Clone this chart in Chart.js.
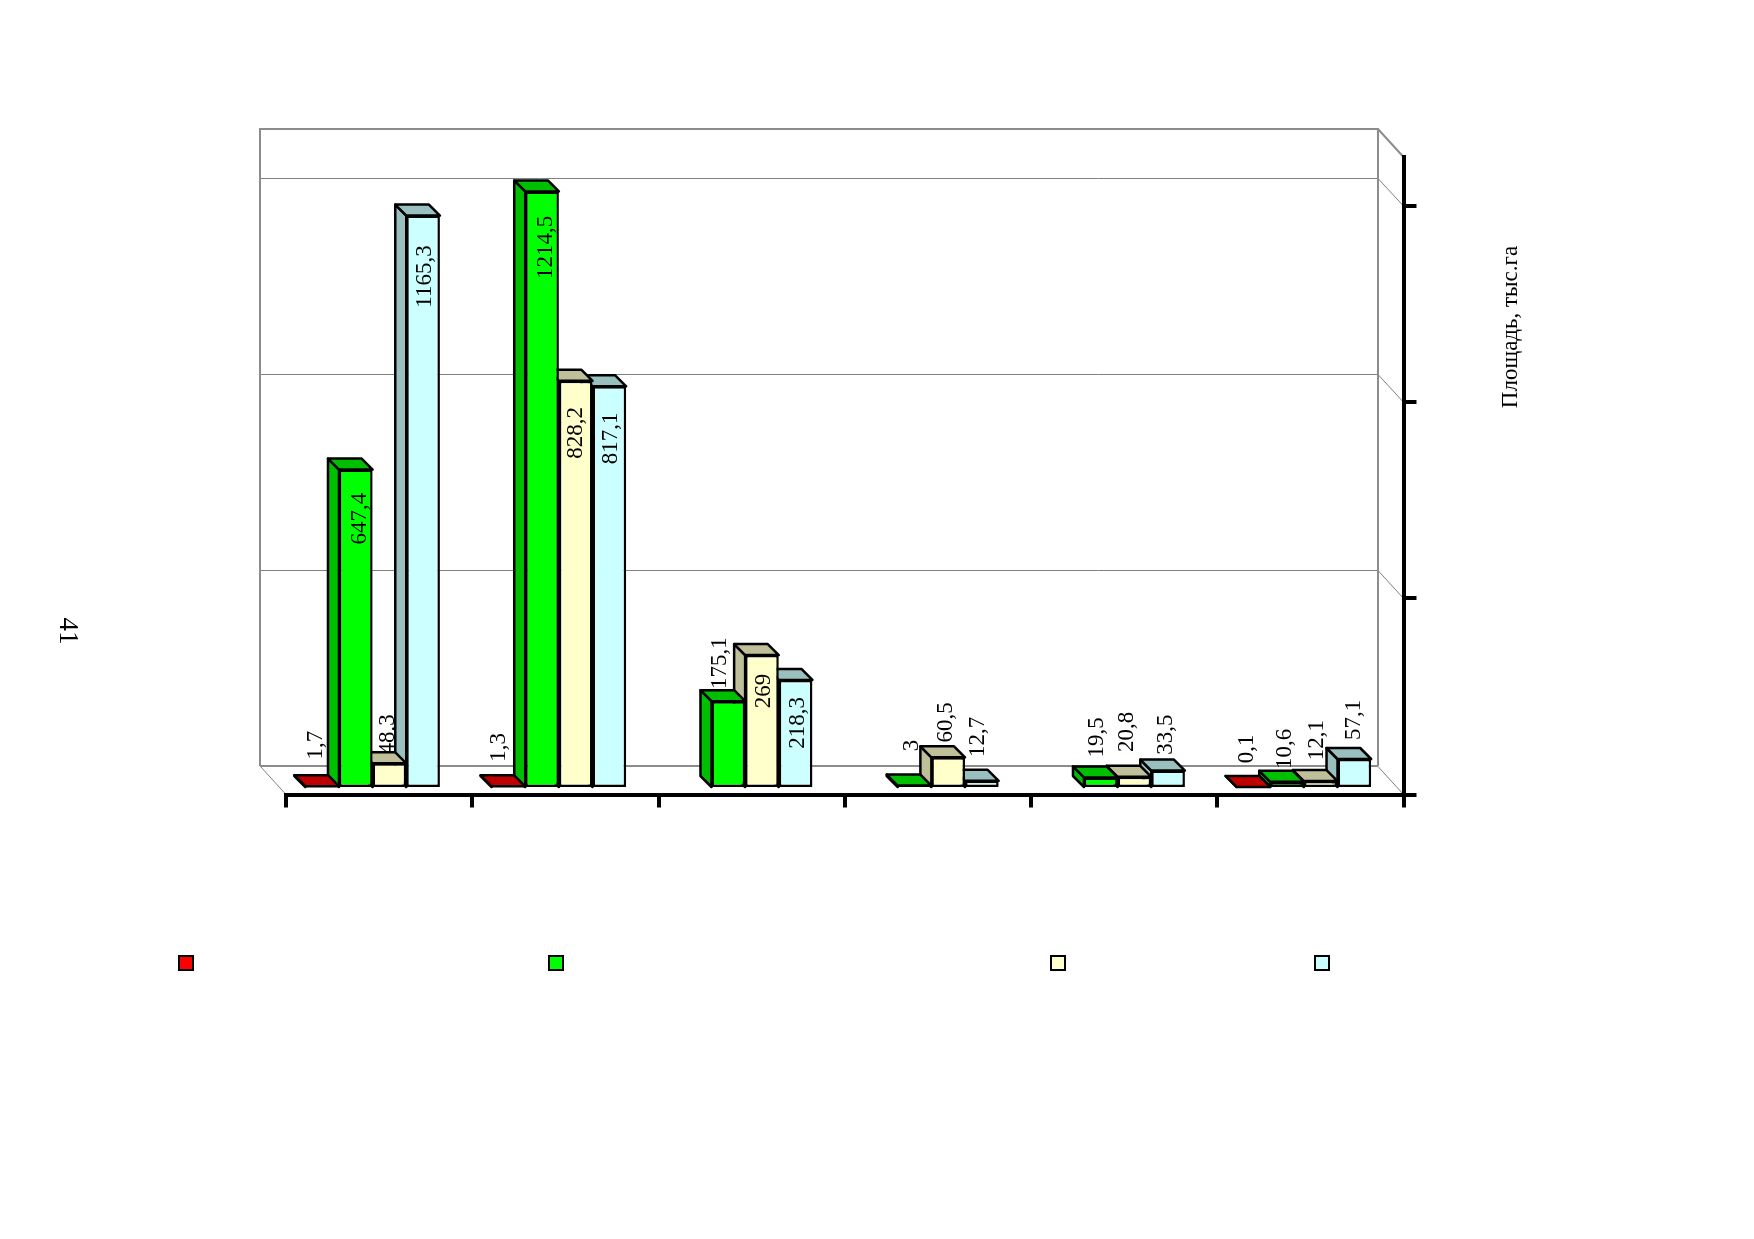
<!DOCTYPE html>
<html>
<head>
<meta charset="utf-8">
<script src="https://cdn.jsdelivr.net/npm/chart.js@4/dist/chart.umd.min.js"></script>
<style>
  html, body { margin: 0; padding: 0; background: #fff; }
  canvas { display: block; }
</style>
</head>
<body>
<canvas id="myChart" width="1754" height="1239"></canvas>
<script>
// values; category and series names are not printed on it
const categories = ["1", "2", "3", "4", "5", "6"];
const series1 = [1.7, 1.3, null, null, null, 0.1];
const series2 = [647.4, 1214.5, 175.1, 3, 19.5, 10.6];
const series3 = [48.3, 828.2, 269, 60.5, 20.8, 12.1];
const series4 = [1165.3, 817.1, 218.3, 12.7, 33.5, 57.1];
const yTicks = [0, 400, 800, 1200];
const yMax = 1300;
const axisTitle = "Площадь, тыс.га";
const pageNumber = "41";

const fronts = ["#FF0000", "#00FF00", "#FFFFCC", "#CCFFFF"];
const shades = ["#BF0000", "#00BF00", "#BFBF99", "#99BFBF"];

// label centre relative to the top middle of its bar
const labelDx = [
    [-6, -9, 0, 0, 0, -6],
    [4, 4, -8, -3, -4, -2],
    [-1, 0, 2, -2, -7, -4],
    [2, 2, 2, -4, -2, 0]
];
const labelDy = [
    [-41, -39, 0, 0, 0, -38],
    [49, 56, -38, -40, -40, -33],
    [-29, 52, 36, -35, -45, -41],
    [61, 52, 43, -44, -36, -39]
];
const legendX = [186, 556, 1058, 1322];
const legendY = 963;

const depth = 11;        // depth of a bar
const plane = { x: -6.5, y: -7.5 };  // bars stand a bit behind the front axes
const wall = { x: -25.6, y: -28.5 }; // back wall offset from the front axes
const labelFont = "23px 'Liberation Serif'";

function poly(ctx, pts, fill) {
    ctx.beginPath();
    pts.forEach((p, i) => i ? ctx.lineTo(p[0], p[1]) : ctx.moveTo(p[0], p[1]));
    ctx.closePath();
    ctx.fillStyle = fill;
    ctx.fill();
    ctx.stroke();
}

function rotatedText(ctx, text, x, y, font, angle) {
    ctx.save();
    ctx.translate(x, y);
    ctx.rotate(angle);
    ctx.font = font;
    ctx.fillStyle = "#000";
    ctx.textAlign = "center";
    ctx.textBaseline = "middle";
    ctx.fillText(text, 0, 0);
    ctx.restore();
}

function drawLabels(chart, inside) {
    const ctx = chart.ctx;
    chart.data.datasets.forEach((ds, d) => {
        chart.getDatasetMeta(d).data.forEach((bar, i) => {
            if (ds.data[i] === null || (labelDy[d][i] > 0) !== inside) return;
            const text = String(ds.data[i]).replace(".", ",");
            rotatedText(ctx, text, bar.x + labelDx[d][i], bar.y + labelDy[d][i], labelFont, -Math.PI / 2);
        });
    });
}

const box3d = {
    id: "box3d",
    // back wall, floor and the grid on them
    beforeDraw(chart) {
        const ctx = chart.ctx;
        const { left, right, top, bottom } = chart.chartArea;
        const y = chart.scales.y;
        const wx0 = Math.round(left + wall.x);
        const wx1 = Math.round(right + wall.x);
        const wy0 = Math.round(top + wall.y);
        const wy1 = Math.round(bottom + wall.y);
        ctx.save();
        ctx.fillStyle = "#fff";
        ctx.fillRect(0, 0, chart.width, chart.height);
        ctx.strokeStyle = "#808080";
        ctx.lineWidth = 1;
        ctx.beginPath();
        yTicks.forEach(v => {
            const py = y.getPixelForValue(v);
            const gy = Math.round(py + wall.y) + 0.5;
            ctx.moveTo(wx0, gy);
            ctx.lineTo(wx1, gy);
            ctx.lineTo(right, py);
        });
        ctx.moveTo(wx0, wy1);
        ctx.lineTo(left, bottom);
        ctx.stroke();
        ctx.strokeStyle = "#8c8c8c";
        ctx.lineWidth = 2;
        ctx.beginPath();
        ctx.moveTo(wx0, wy1);
        ctx.lineTo(wx0, wy0);
        ctx.lineTo(wx1, wy0);
        ctx.lineTo(right, top);
        ctx.moveTo(wx1, wy0);
        ctx.lineTo(wx1, wy1);
        ctx.moveTo(wx0, wy1);
        ctx.lineTo(wx1, wy1);
        ctx.stroke();
        ctx.restore();
    },
    beforeDatasetsDraw(chart) {
        chart.ctx.save();
        chart.ctx.translate(plane.x, plane.y);
        drawLabels(chart, false);
    },
    // side and top of the bars, library draws the front right after this
    beforeDatasetDraw(chart, args) {
        const ctx = chart.ctx;
        const d = args.index;
        ctx.save();
        ctx.strokeStyle = "#000";
        ctx.lineWidth = 2.5;
        ctx.lineJoin = "round";
        args.meta.data.forEach((bar, i) => {
            if (chart.data.datasets[d].data[i] === null) return;
            const x0 = bar.x - bar.width / 2;
            const x1 = bar.x + bar.width / 2;
            poly(ctx, [[x0, bar.base], [x0 - depth, bar.base - depth], [x0 - depth, bar.y - depth], [x0, bar.y]], shades[d]);
            poly(ctx, [[x0, bar.y], [x0 - depth, bar.y - depth], [x1 - depth, bar.y - depth], [x1, bar.y]], shades[d]);
        });
        ctx.restore();
    },
    afterDatasetsDraw(chart) {
        drawLabels(chart, true);
        chart.ctx.restore();
    },
    afterDraw(chart) {
        const ctx = chart.ctx;
        rotatedText(ctx, axisTitle, 1511, 327, "23px 'Liberation Serif'", -Math.PI / 2);
        rotatedText(ctx, pageNumber, 67, 631, "27px 'Liberation Serif'", Math.PI / 2);
        // the legend texts are missing in the picture, only the keys are left
        ctx.save();
        ctx.strokeStyle = "#000";
        ctx.lineWidth = 2;
        legendX.forEach((x, i) => {
            ctx.fillStyle = fronts[i];
            ctx.fillRect(x - 7, legendY - 7, 14, 14);
            ctx.strokeRect(x - 7, legendY - 7, 14, 14);
        });
        ctx.restore();
    }
};

const seriesValues = [series1, series2, series3, series4];

new Chart(document.getElementById("myChart").getContext("2d"), {
    type: "bar",
    data: {
        labels: categories,
        datasets: seriesValues.map((values, i) => ({
            label: "",
            data: values,
            backgroundColor: fronts[i],
            borderColor: "#000",
            borderWidth: 2.5,
            borderSkipped: false,
            clip: false,
            base: -0.001,   // keeps the library from lifting the base by half an axis tick
            barPercentage: 1,
            categoryPercentage: 0.7226
        }))
    },
    options: {
        responsive: false,
        devicePixelRatio: 1,
        animation: false,
        layout: { padding: { left: 286, top: 157, right: 334.5, bottom: 428.5 } },
        plugins: {
            legend: { display: false },
            tooltip: { enabled: false },
            title: { display: false }
        },
        scales: {
            x: {
                afterFit(scale) { scale.height = 16; },
                ticks: { display: false },
                border: { color: "#000", width: 4 },
                grid: { drawOnChartArea: false, color: "#000", lineWidth: 4, tickLength: 13 }
            },
            y: {
                position: "right",
                min: 0,
                max: yMax,
                afterBuildTicks(scale) { scale.ticks = yTicks.map(value => ({ value })); },
                afterFit(scale) { scale.width = 16; },
                ticks: { display: false },
                border: { color: "#000", width: 4 },
                grid: { drawOnChartArea: false, color: "#000", lineWidth: 4, tickLength: 13 }
            }
        }
    },
    plugins: [box3d]
});
</script>
</body>
</html>
